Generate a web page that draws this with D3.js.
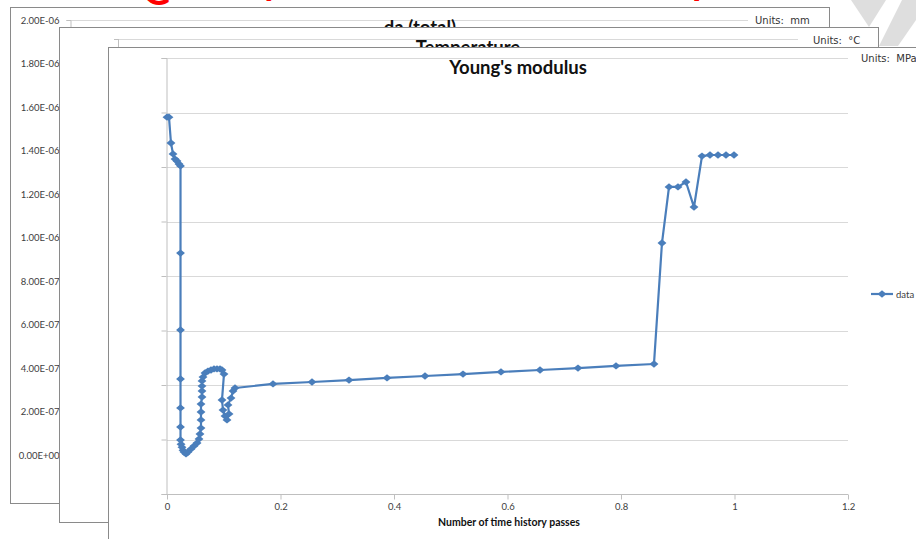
<!DOCTYPE html>
<html>
<head>
<meta charset="utf-8">
<script src="https://cdn.jsdelivr.net/npm/d3@7/dist/d3.min.js"></script>
<style>
  body { margin: 0; background: #fff; }
  svg { display: block; font-family: Lato, "Liberation Sans", sans-serif; }
  .frame { fill: #fff; stroke: #8a8a8a; stroke-width: 1; }
  .grid line { stroke: #d9d9d9; stroke-width: 1; }
  .axis path, .axis line { stroke: #bfbfbf; }
  .axis text { fill: #404040; font-size: 9.5px; font-family: Lato, sans-serif; }
  .units { font-family: "DejaVu Sans", sans-serif; font-size: 10px; fill: #333; }
  .title { font-weight: bold; font-size: 18.5px; fill: #111; text-anchor: middle; }
</style>
</head>
<body>
<div id="chart"></div>
<script>
// x values: number of time history passes
var passes = [0, 0.0035, 0.007, 0.0106, 0.0141, 0.0176, 0.0211, 0.0238, 0.0238, 0.0238,
  0.0238, 0.0238, 0.0238, 0.0238, 0.0247, 0.0264, 0.0282, 0.030, 0.0335, 0.037,
  0.0423, 0.0476, 0.0529, 0.0564, 0.0581, 0.0599, 0.0599, 0.0599, 0.0599, 0.0617,
  0.0617, 0.0617, 0.0617, 0.0634, 0.067, 0.0722, 0.0775, 0.0828, 0.0881, 0.0934,
  0.0969, 0.1004, 0.0969, 0.0987, 0.1022, 0.1057, 0.1093, 0.1075, 0.1128, 0.1163,
  0.1198, 0.1868, 0.2555, 0.3207, 0.3877, 0.4546, 0.5216, 0.5885, 0.6573, 0.7242,
  0.7912, 0.8581, 0.8722, 0.8846, 0.9004, 0.9145, 0.9286, 0.9427, 0.9568, 0.9709,
  0.985, 0.9991];

// y values: Young's modulus (relative, axis has no labels)
var youngsModulus = [1.383, 1.383, 1.288, 1.248, 1.229, 1.222, 1.211, 1.204, 0.884, 0.602,
  0.422, 0.316, 0.246, 0.198, 0.183, 0.172, 0.161, 0.154, 0.147, 0.154,
  0.165, 0.176, 0.187, 0.202, 0.220, 0.242, 0.272, 0.301, 0.330, 0.356,
  0.378, 0.396, 0.415, 0.429, 0.444, 0.451, 0.455, 0.459, 0.459, 0.459,
  0.455, 0.440, 0.345, 0.308, 0.286, 0.272, 0.294, 0.327, 0.352, 0.378,
  0.389, 0.404, 0.411, 0.418, 0.426, 0.433, 0.440, 0.448, 0.455, 0.462,
  0.470, 0.477, 0.921, 1.127, 1.127, 1.145, 1.053, 1.240, 1.244, 1.244,
  1.244, 1.244];

var xTicks = [0, 0.2, 0.4, 0.6, 0.8, 1, 1.2];
var xTickLabels = ["0", "0.2", "0.4", "0.6", "0.8", "1", "1.2"];
var modulusTicks = [0, 0.2, 0.4, 0.6, 0.8, 1, 1.2, 1.4, 1.6];

var daTicks = [0, 2e-7, 4e-7, 6e-7, 8e-7, 1e-6, 1.2e-6, 1.4e-6, 1.6e-6, 1.8e-6, 2e-6];
var daTickLabels = ["0.00E+00", "2.00E-07", "4.00E-07", "6.00E-07", "8.00E-07", "1.00E-06",
  "1.20E-06", "1.40E-06", "1.60E-06", "1.80E-06", "2.00E-06"];

var seriesName = "data";
var titles = ["da (total)", "Temperature", "Young's modulus"];
var units = ["Units:  mm", "Units:  \u00B0C", "Units:  MPa"];

var w = 916, h = 539;
var blue = "#4a7ebb";

var svg = d3.select("#chart").append("svg")
    .attr("width", w)
    .attr("height", h);

// red heading, only its lower edge is inside the picture
var red = svg.append("text")
    .attr("fill", "#ff0000")
    .attr("font-weight", "bold")
    .attr("font-size", 38);
red.append("tspan").attr("x", 143).attr("y", 5).text("G");
red.append("tspan").attr("x", 262).attr("y", -5).text("y");
red.append("tspan").attr("x", 692).attr("y", -5).text("p");

// grey logo in the corner
svg.append("polygon")
    .attr("points", "851,0 886,0 869,27")
    .attr("fill", "#dedede");
svg.append("polygon")
    .attr("points", "902,0 916,0 916,20 898,46 879,46")
    .attr("fill", "#dedede");

// ---- back window: da (total)
var w1 = svg.append("g");
w1.append("rect").attr("class", "frame")
    .attr("x", 10.5).attr("y", 7.5).attr("width", 819).attr("height", 496);

var daScale = d3.scaleLinear().domain([0, 2e-6]).range([455.5, 20]);

w1.append("g").attr("class", "grid")
    .selectAll("line").data(daTicks).enter().append("line")
    .attr("x1", 70).attr("x2", 748)
    .attr("y1", function(d) { return Math.round(daScale(d)) + 0.5; })
    .attr("y2", function(d) { return Math.round(daScale(d)) + 0.5; });

w1.append("g").attr("class", "axis")
    .attr("transform", "translate(70.5,0)")
    .call(d3.axisLeft(daScale)
        .tickValues(daTicks)
        .tickSize(4)
        .tickPadding(7)
        .tickFormat(function(d, i) { return daTickLabels[i]; }));

w1.append("text").attr("class", "title").attr("x", 420).attr("y", 34).text(titles[0]);
w1.append("text").attr("class", "units").attr("x", 755).attr("y", 24)
    .attr("xml:space", "preserve").text(units[0]);

// ---- middle window: Temperature
var w2 = svg.append("g");
w2.append("rect").attr("class", "frame")
    .attr("x", 59.5).attr("y", 27.5).attr("width", 819).attr("height", 495);
w2.append("line").attr("x1", 118).attr("x2", 798).attr("y1", 39.5).attr("y2", 39.5)
    .attr("stroke", "#d9d9d9");
w2.append("line").attr("x1", 118.5).attr("x2", 118.5).attr("y1", 39).attr("y2", 60)
    .attr("stroke", "#bfbfbf");
w2.append("line").attr("x1", 114).attr("x2", 118).attr("y1", 39.5).attr("y2", 39.5)
    .attr("stroke", "#bfbfbf");
w2.append("text").attr("class", "title").attr("x", 468).attr("y", 54).text(titles[1]);
w2.append("text").attr("class", "units").attr("x", 813).attr("y", 44)
    .attr("xml:space", "preserve").text(units[1]);

// ---- front window: Young's modulus
var w3 = svg.append("g");
w3.append("rect").attr("class", "frame")
    .attr("x", 108.5).attr("y", 47.5).attr("width", 900).attr("height", 600);

var xScale = d3.scaleLinear().domain([0, 1.2]).range([167, 848]);
var yScale = d3.scaleLinear().domain([0, 1.6]).range([494, 58]);

w3.append("g").attr("class", "grid")
    .selectAll("line").data(modulusTicks.slice(1)).enter().append("line")
    .attr("x1", 167).attr("x2", 848)
    .attr("y1", function(d) { return Math.round(yScale(d)) + 0.5; })
    .attr("y2", function(d) { return Math.round(yScale(d)) + 0.5; });

w3.append("g").attr("class", "axis")
    .attr("transform", "translate(166.5,0)")
    .call(d3.axisLeft(yScale).tickValues(modulusTicks).tickSize(5).tickFormat(""));

var xAxis = w3.append("g").attr("class", "axis")
    .attr("transform", "translate(0,494.5)")
    .call(d3.axisBottom(xScale)
        .tickValues(xTicks)
        .tickSize(5)
        .tickPadding(4)
        .tickFormat(function(d, i) { return xTickLabels[i]; }));
xAxis.select(".domain").attr("d", "M167,0H848");

w3.append("text").attr("class", "title").attr("x", 518).attr("y", 74).text(titles[2]);
w3.append("text").attr("class", "units").attr("x", 861).attr("y", 62)
    .attr("xml:space", "preserve").text(units[2]);

w3.append("text")
    .attr("x", 509).attr("y", 526)
    .attr("text-anchor", "middle")
    .attr("font-weight", "bold")
    .attr("font-size", 10.5)
    .attr("fill", "#111")
    .text("Number of time history passes");

var points = passes.map(function(d, i) { return { x: d, y: youngsModulus[i] }; });

var line = d3.line()
    .x(function(d) { return xScale(d.x); })
    .y(function(d) { return yScale(d.y); });

w3.append("path")
    .datum(points)
    .attr("d", line)
    .attr("fill", "none")
    .attr("stroke", blue)
    .attr("stroke-width", 2.2)
    .attr("stroke-linejoin", "round");

var diamond = d3.symbol().type(d3.symbolSquare).size(30);

w3.append("g").selectAll("path").data(points).enter().append("path")
    .attr("d", diamond)
    .attr("fill", blue)
    .attr("transform", function(d) {
        return "translate(" + xScale(d.x) + "," + yScale(d.y) + ") scale(1.15,0.95) rotate(45)";
    });

// legend
var lg = w3.append("g").attr("transform", "translate(871,294)");
lg.append("line").attr("x1", 0).attr("x2", 22).attr("y1", 0).attr("y2", 0)
    .attr("stroke", blue).attr("stroke-width", 2.2);
lg.append("path").attr("d", diamond).attr("fill", blue)
    .attr("transform", "translate(11,0) scale(1.15,0.95) rotate(45)");
lg.append("text").attr("x", 25).attr("y", 3.5)
    .attr("font-size", 9.5).attr("fill", "#404040").text(seriesName);
</script>
</body>
</html>
